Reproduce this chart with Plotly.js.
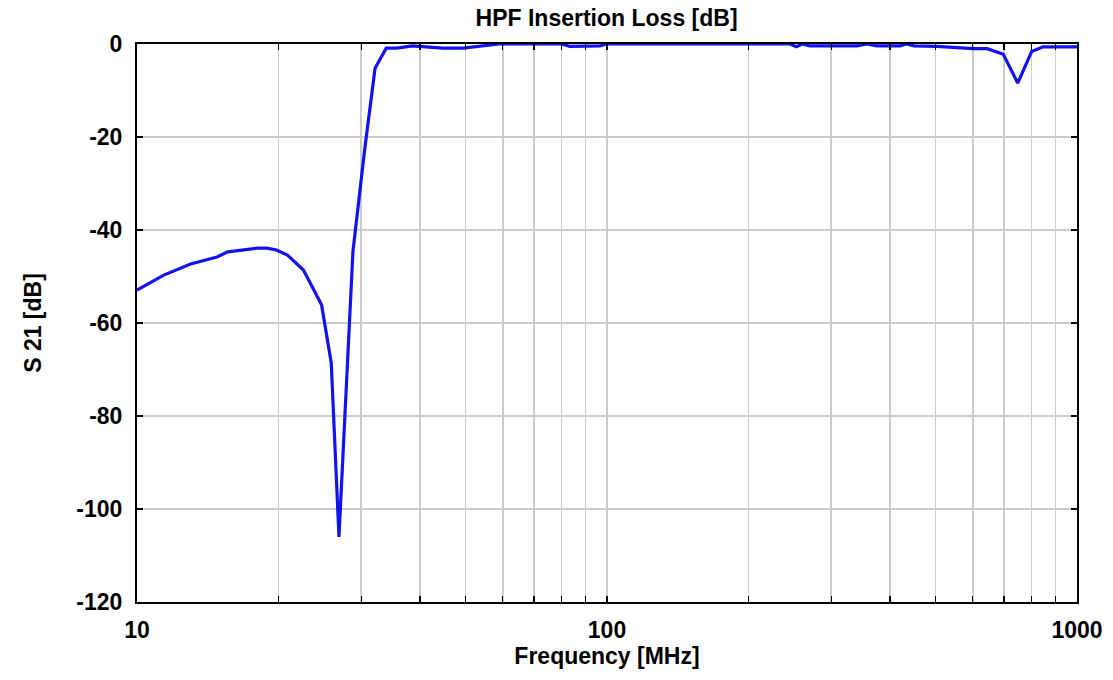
<!DOCTYPE html>
<html>
<head>
<meta charset="utf-8">
<script src="https://cdn.plot.ly/plotly-3.0.1.min.js"></script>
<style>html,body{margin:0;padding:0;background:#fff;}#chart{width:1113px;height:680px;}</style>
</head>
<body>
<div id="chart"></div>
<script>
const freqMHz = [10, 11.4, 13.0, 14.8, 15.6, 18.0, 18.9, 19.8, 20.9, 21.5, 22.6, 24.7, 25.9, 26.9, 28.8, 30.5, 32.1, 33.9, 35.7, 38.6, 44.7, 49.4, 59, 70, 80, 83.4, 90, 96.6, 100, 150, 200, 245, 253, 260, 270, 300, 340, 357, 375, 420, 434, 450, 503, 601, 644, 697, 748, 801, 847, 900, 1000];
const s21dB   = [-52.9, -49.7, -47.3, -45.8, -44.7, -43.9, -43.9, -44.3, -45.4, -46.5, -48.6, -56.1, -68.6, -106, -44.7, -22.8, -5.2, -0.9, -0.9, -0.4, -0.9, -0.9, 0, 0, 0, -0.5, -0.5, -0.4, 0, 0, 0, 0, -0.6, 0, -0.4, -0.4, -0.4, 0, -0.4, -0.4, 0, -0.4, -0.5, -1.0, -1.0, -2.2, -8.4, -1.6, -0.6, -0.6, -0.6];

const xTickVals = [10,20,30,40,50,60,70,80,90,100,200,300,400,500,600,700,800,900,1000];
const xTickText = ['10','','','','','','','','','100','','','','','','','','','1000'];
const yTickVals = [-120,-100,-80,-60,-40,-20,0];

function f(size) { return {family: 'Liberation Sans, Arial, sans-serif', color: '#000', size: size, weight: 'bold'}; }

Plotly.newPlot('chart', [{
  x: freqMHz, y: s21dB, type: 'scatter', mode: 'lines',
  line: {color: 'rgb(18,18,240)', width: 3.2}
}], {
  width: 1113, height: 680,
  margin: {l: 137, r: 36, t: 44, b: 78},
  paper_bgcolor: '#fff', plot_bgcolor: '#fff',
  showlegend: false,
  title: {text: 'HPF Insertion Loss [dB]', x: 0.545, xanchor: 'center', y: 0.973, yanchor: 'middle', font: f(23)},
  xaxis: {
    type: 'log', range: [1, 3],
    tickmode: 'array', tickvals: xTickVals, ticktext: xTickText,
    ticks: 'inside', ticklen: 6, tickwidth: 1.5, tickcolor: '#000',
    showgrid: true, gridcolor: '#cccccc', gridwidth: 1.6,
    showline: true, linecolor: '#000', linewidth: 2, mirror: 'ticks',
    zeroline: false,
    tickfont: f(23),
    ticklabelstandoff: 6,
    title: {text: 'Frequency [MHz]', font: f(23), standoff: 3}
  },
  yaxis: {
    range: [-120, 0], tickmode: 'array', tickvals: yTickVals,
    ticktext: yTickVals.map(String),
    ticks: 'inside', ticklen: 6, tickwidth: 1.5, tickcolor: '#000',
    showgrid: true, gridcolor: '#cccccc', gridwidth: 1.6,
    showline: true, linecolor: '#000', linewidth: 2, mirror: 'ticks',
    zeroline: false,
    tickfont: f(23),
    ticklabelstandoff: 8,
    title: {text: 'S 21 [dB]', font: f(23), standoff: 28}
  }
}, {displayModeBar: false, staticPlot: true});
</script>
</body>
</html>
